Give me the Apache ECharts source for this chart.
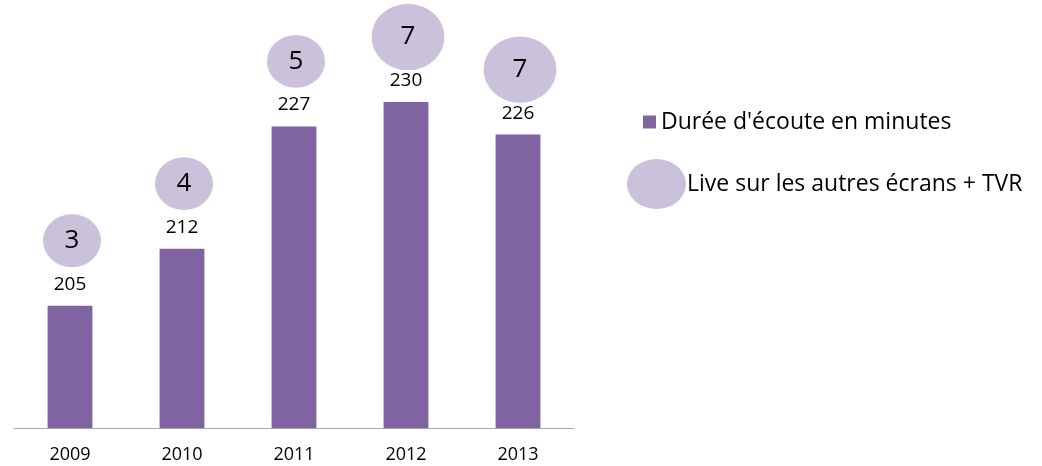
<!DOCTYPE html>
<html><head><meta charset="utf-8">
<script src="https://cdn.jsdelivr.net/npm/echarts@6/dist/echarts.min.js"></script>
<style>html,body{margin:0;padding:0;background:#fff}#c{width:1042px;height:466px}</style>
</head><body><div id="c"></div>
<script>
const categories = ['2009', '2010', '2011', '2012', '2013'];
const listeningMinutes = [205, 212, 227, 230, 226];
const liveOtherScreens = [3, 4, 5, 7, 7];
const barName = "Durée d'écoute en minutes";
const bubbleName = 'Live sur les autres écrans + TVR';

const FONT = 'Open Sans';
const bubbleW = v => Math.max(58, 58 + (v - 5) * 7.5);
const ELLIPSE = 'path://M0,50 A50,50 0 1,1 100,50 A50,50 0 1,1 0,50 Z';

const chart = echarts.init(document.getElementById('c'), null, {renderer: 'canvas'});
chart.setOption({
  animation: false,
  textStyle: {fontFamily: FONT},
  grid: {left: 14, width: 560, top: 20.5, bottom: 38, containLabel: false},
  legend: [
    {data: [barName], left: 643, top: 110.5, padding: 0, orient: 'vertical', itemWidth: 13, itemHeight: 13, icon: 'rect',
     itemGap: 0, textStyle: {fontSize: 23, color: '#000', fontFamily: FONT}},
    {data: [bubbleName], left: 627, top: 159, padding: 0, orient: 'vertical', itemWidth: 59, itemHeight: 50,
     icon: ELLIPSE, symbolKeepAspect: false,
     textStyle: {fontSize: 23, color: '#000', fontFamily: FONT, padding: [0, 0, 0, -4]}}
  ],
  xAxis: {
    type: 'category', data: categories,
    axisLine: {lineStyle: {color: '#A6A6A6', width: 1}},
    axisTick: {show: false},
    axisLabel: {color: '#000', fontSize: 18, margin: 18, fontFamily: FONT}
  },
  yAxis: {type: 'value', min: 190, max: 240, show: false, splitLine: {show: false}},
  series: [
    {
      name: barName, type: 'bar', data: listeningMinutes, barWidth: '40%',
      itemStyle: {color: '#8064A2'},
      label: {show: true, position: 'top', distance: 12, color: '#000', fontSize: 19, fontFamily: FONT}
    },
    {
      name: bubbleName, type: 'scatter',
      data: categories.map((c, i) => ({value: [c, listeningMinutes[i], liveOtherScreens[i]]})),
      symbol: 'circle',
      symbolSize: v => [bubbleW(v[2]), bubbleW(v[2]) * 0.91],
      symbolOffset: [2, -65],
      itemStyle: {color: '#CCC1DA', opacity: 1},
      label: {show: true, position: 'inside', formatter: p => p.value[2], color: '#000', fontSize: 26, fontFamily: FONT},
      z: 3
    }
  ]
});
</script></body></html>
